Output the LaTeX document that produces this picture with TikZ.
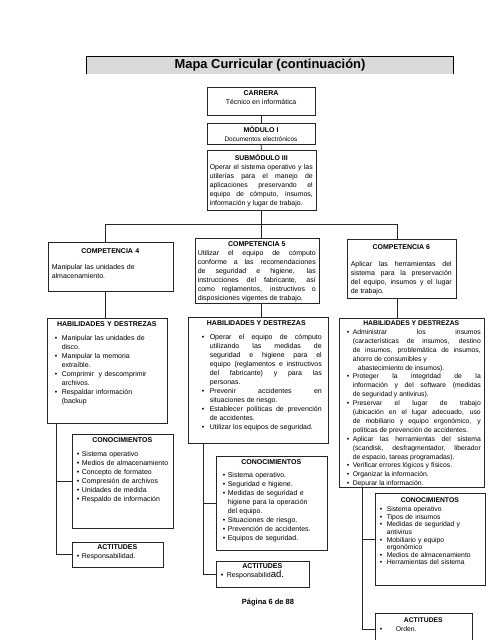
\documentclass[tikz,border=0pt]{standalone}
\usepackage{fontspec}
\setmainfont{Liberation Sans}
\usetikzlibrary{fit}
\newlength\bulind \newlength\bulofs
\setlength\bulind{12pt}\setlength\bulofs{5pt}
\newcommand\itm[1]{\par\hangindent=\bulind\hangafter=1\noindent\hbox to\bulind{\hspace{\bulofs}\textbullet\hfil}#1}
\newcommand\ttl[1]{{\centering\bfseries #1\par}}
\newcommand\fsz[2]{\fontsize{#1}{#2}\selectfont}
\newcommand\boxat[5]{\node[frame, fit={(#2,#3) (#4,#5)}] (#1) {};}
\tikzset{
 frame/.style={draw=black!85, line width=0.8pt, inner sep=0pt, minimum size=0pt},
 txt/.style={inner sep=0pt, anchor=north west, font=\fsz{7}{9}},
 conn/.style={draw=black!85, line width=0.8pt},
}
\begin{document}
\begin{tikzpicture}[x=1pt,y=-1pt]
\useasboundingbox (0,0) rectangle (495,640);
\clip (0,0) rectangle (495,640);
% title bar
\node[fill=black!15, minimum width=366pt, minimum height=17pt, inner sep=0pt,
      font=\bfseries\fsz{12.9}{14}] (title) at (270,65.5) {Mapa Curricular (continuación)};
\draw[line width=0.8pt] (title.south west) -- (title.north west) -- (title.north east) -- (title.south east);

% top chain
\boxat{carr}{207}{87}{315}{115}
\node[txt, anchor=north, align=center] (carrt) at ([yshift=-3.5pt]carr.north) {\bfseries CARRERA\\Técnico en informática};
\boxat{mod}{207}{123}{315}{144}
\node[txt, anchor=north, align=center] (modt) at ([yshift=-3pt]mod.north) {\bfseries MÓDULO I\\{\fsz{6.5}{8}Documentos electrónicos}};
\boxat{sub}{207}{150}{316}{210}
\node[txt, text width=103pt, align=justify, font=\fsz{6.9}{9}] (subt) at ([xshift=3pt,yshift=-4.5pt]sub.north west)
 {\ttl{SUBMÓDULO III}Operar el sistema operativo y las\linebreak utilerías para el manejo de\linebreak aplicaciones preservando el\linebreak equipo de cómputo, insumos,\linebreak información y lugar de trabajo.\par};
\draw[conn] (carr.south) -- (mod.north);
\draw[conn] (mod.south) -- (sub.north);

% competencias
\boxat{c4}{48}{242}{173}{291}
\node[txt, text width=117pt, align=left] (c4t) at ([xshift=4pt,yshift=-6.5pt]c4.north west)
 {\ttl{COMPETENCIA 4}\vspace{7.5pt}Manipular las unidades de\newline almacenamiento.\par};
\boxat{c5}{195}{238}{319}{303}
\node[txt, text width=118pt, align=justify] (c5t) at ([xshift=3pt,yshift=-3.5pt]c5.north west)
 {\ttl{COMPETENCIA 5}Utilizar el equipo de cómputo\linebreak conforme a las recomendaciones\linebreak de seguridad e higiene, las\linebreak instrucciones del fabricante, así\linebreak como reglamentos, instructivos o\linebreak disposiciones vigentes de trabajo.\par};
\boxat{c6}{347}{239}{456}{298}
\node[txt, text width=101pt, align=justify] (c6t) at ([xshift=4pt,yshift=-6pt]c6.north west)
 {\ttl{COMPETENCIA 6}\vspace{7.5pt}Aplicar las herramientas del\linebreak sistema para la preservación\linebreak del equipo, insumos y el lugar\linebreak de trabajo.\par};

\coordinate (j4) at (105,224);
\coordinate (j6) at (397,224);
\draw[conn] (sub.south) -- (sub.south |- j4);
\draw[conn] (j4) -- (j6);
\draw[conn] (j4) -- (j4 |- c4.north);
\draw[conn] (sub.south |- j4) -- (sub.south |- c5.north);
\draw[conn] (j6) -- (j6 |- c6.north);

% habilidades
\boxat{h4}{47}{318}{167}{423}
\node[txt, text width=114pt, align=left] (h4t) at ([xshift=3pt,yshift=-3.5pt]h4.north west)
 {\ttl{HABILIDADES Y DESTREZAS}\vspace{5pt}%
  \setlength\bulofs{5pt}\setlength\bulind{12pt}%
  \itm{Manipular las unidades de\newline disco.}
  \itm{Manipular la memoria\newline extraíble.}
  \itm{Comprimir\ \ y descomprimir\newline archivos.}
  \itm{Respaldar información\newline (backup}\par};
\boxat{h5}{188}{317}{328}{443}
\node[txt, text width=131pt, align=justify] (h5t) at ([xshift=3pt,yshift=-3.5pt]h5.north west)
 {\ttl{HABILIDADES Y DESTREZAS}\vspace{5pt}%
  \setlength\bulofs{11pt}\setlength\bulind{19pt}%
  \itm{Operar el equipo de cómputo\linebreak utilizando las medidas de\linebreak seguridad e higiene para el\linebreak equipo (reglamentos e instructivos\linebreak del fabricante) y para las\linebreak personas.}
  \itm{Prevenir accidentes en\linebreak situaciones de riesgo.}
  \itm{Establecer políticas de prevención\linebreak de accidentes.}
  \itm{Utilizar los equipos de seguridad.}\par};
\boxat{h6}{339}{318}{484}{487}
\node[txt, text width=139pt, align=justify, font=\fsz{6.8}{8.9}] (h6t) at ([xshift=3pt,yshift=-3pt]h6.north west)
 {\ttl{HABILIDADES Y DESTREZAS}%
  \setlength\bulofs{5pt}\setlength\bulind{11pt}%
  \itm{Administrar los insumos\linebreak (características de insumos, destino\linebreak de insumos, problemática de insumos,\linebreak ahorro de consumibles y\newline\hspace*{5pt}abastecimiento de insumos).}
  \itm{Proteger la integridad de la\linebreak información y del software (medidas\linebreak de seguridad y antivirus).}
  \itm{Preservar el lugar de trabajo\linebreak (ubicación en el lugar adecuado, uso\linebreak de mobiliario y equipo ergonómico, y\linebreak políticas de prevención de accidentes.}
  \itm{Aplicar las herramientas del sistema\linebreak (scandisk, desfragmentador, liberador\linebreak de espacio, tareas programadas).}
  \itm{Verificar errores lógicos y físicos.}
  \itm{Organizar la información.}
  \itm{Depurar la información.}\par};

\draw[conn] (j4 |- c4.south) -- (j4 |- h4.north);
\draw[conn] (sub.south |- c5.south) -- (sub.south |- h5.north);
\draw[conn] (j6 |- c6.south) -- (j6 |- h6.north);

% conocimientos / actitudes column 4
\boxat{n4}{72}{434}{173}{528}
\node[txt, text width=97pt, align=left] (n4t) at ([xshift=2pt,yshift=-4pt]n4.north west)
 {\ttl{CONOCIMIENTOS}\vspace{5pt}%
  \setlength\bulofs{3pt}\setlength\bulind{8pt}%
  \itm{Sistema operativo}
  \itm{Medios de almacenamiento}
  \itm{Concepto de formateo}
  \itm{Compresión de archivos}
  \itm{Unidades de medida}
  \itm{Respaldo de información}\par};
\boxat{a4}{72}{542}{163}{567}
\node[txt, text width=87pt, align=left] (a4t) at ([xshift=2pt,yshift=-3pt]a4.north west)
 {\ttl{ACTITUDES}%
  \setlength\bulofs{3pt}\setlength\bulind{8pt}%
  \itm{Responsabilidad.}\par};
\coordinate (k4) at ([xshift=10pt]h4.south west);
\draw[conn] (k4) |- (a4.west);
\draw[conn] (k4 |- n4.west) -- (n4.west);

% column 5
\boxat{n5}{216}{456}{327}{550}
\node[txt, text width=107pt, align=left] (n5t) at ([xshift=2pt,yshift=-4pt]n5.north west)
 {\ttl{CONOCIMIENTOS}\vspace{4pt}%
  \setlength\bulofs{5pt}\setlength\bulind{10pt}%
  \itm{Sistema operativo.}
  \itm{Seguridad e higiene.}
  \itm{Medidas de seguridad e\newline higiene para la operación\newline del equipo.}
  \itm{Situaciones de riesgo.}
  \itm{Prevención de accidentes.}
  \itm{Equipos de seguridad.}\par};
\boxat{a5}{216}{561}{309}{587}
\node[txt, text width=89pt, align=left] (a5t) at ([xshift=2pt,yshift=-3pt]a5.north west)
 {\ttl{ACTITUDES}%
  \setlength\bulofs{3pt}\setlength\bulind{9pt}%
  \itm{Responsabilid{\fsz{9.5}{9}ad.}}\par};
\coordinate (k5) at ([xshift=16pt]h5.south west);
\draw[conn] (k5) |- (a5.west);
\draw[conn] (k5 |- n5.west) -- (n5.west);
\node[font=\bfseries\fsz{7.5}{9}, inner sep=0pt] (pag) at (268,603) {Página 6 de 88};

% column 6
\boxat{n6}{375}{493}{485}{585}
\node[txt, text width=106pt, align=left, font=\fsz{6.8}{7.6}] (n6t) at ([xshift=2pt,yshift=-5pt]n6.north west)
 {\ttl{CONOCIMIENTOS}\vspace{1.5pt}%
  \setlength\bulofs{3pt}\setlength\bulind{10pt}%
  \itm{Sistema operativo}
  \itm{Tipos de insumos}
  \itm{Medidas de seguridad y\newline antivirus}
  \itm{Mobiliario y equipo\newline ergonómico}
  \itm{Medios de almacenamiento}
  \itm{Herramientas del sistema}\par};
\boxat{a6}{375}{613}{472}{645}
\node[txt, text width=93pt, align=left, font=\fsz{6.8}{9}] (a6t) at ([xshift=2pt,yshift=-5pt]a6.north west)
 {\ttl{ACTITUDES}%
  \setlength\bulofs{3pt}\setlength\bulind{19pt}%
  \itm{Orden.}\par};
\coordinate (k6) at ([xshift=24pt]h6.south west);
\draw[conn] (k6) -- (k6 |- a6.west) -- (a6.west);
\draw[conn] (k6 |- n6.west) -- (n6.west);
\end{tikzpicture}
\end{document}
